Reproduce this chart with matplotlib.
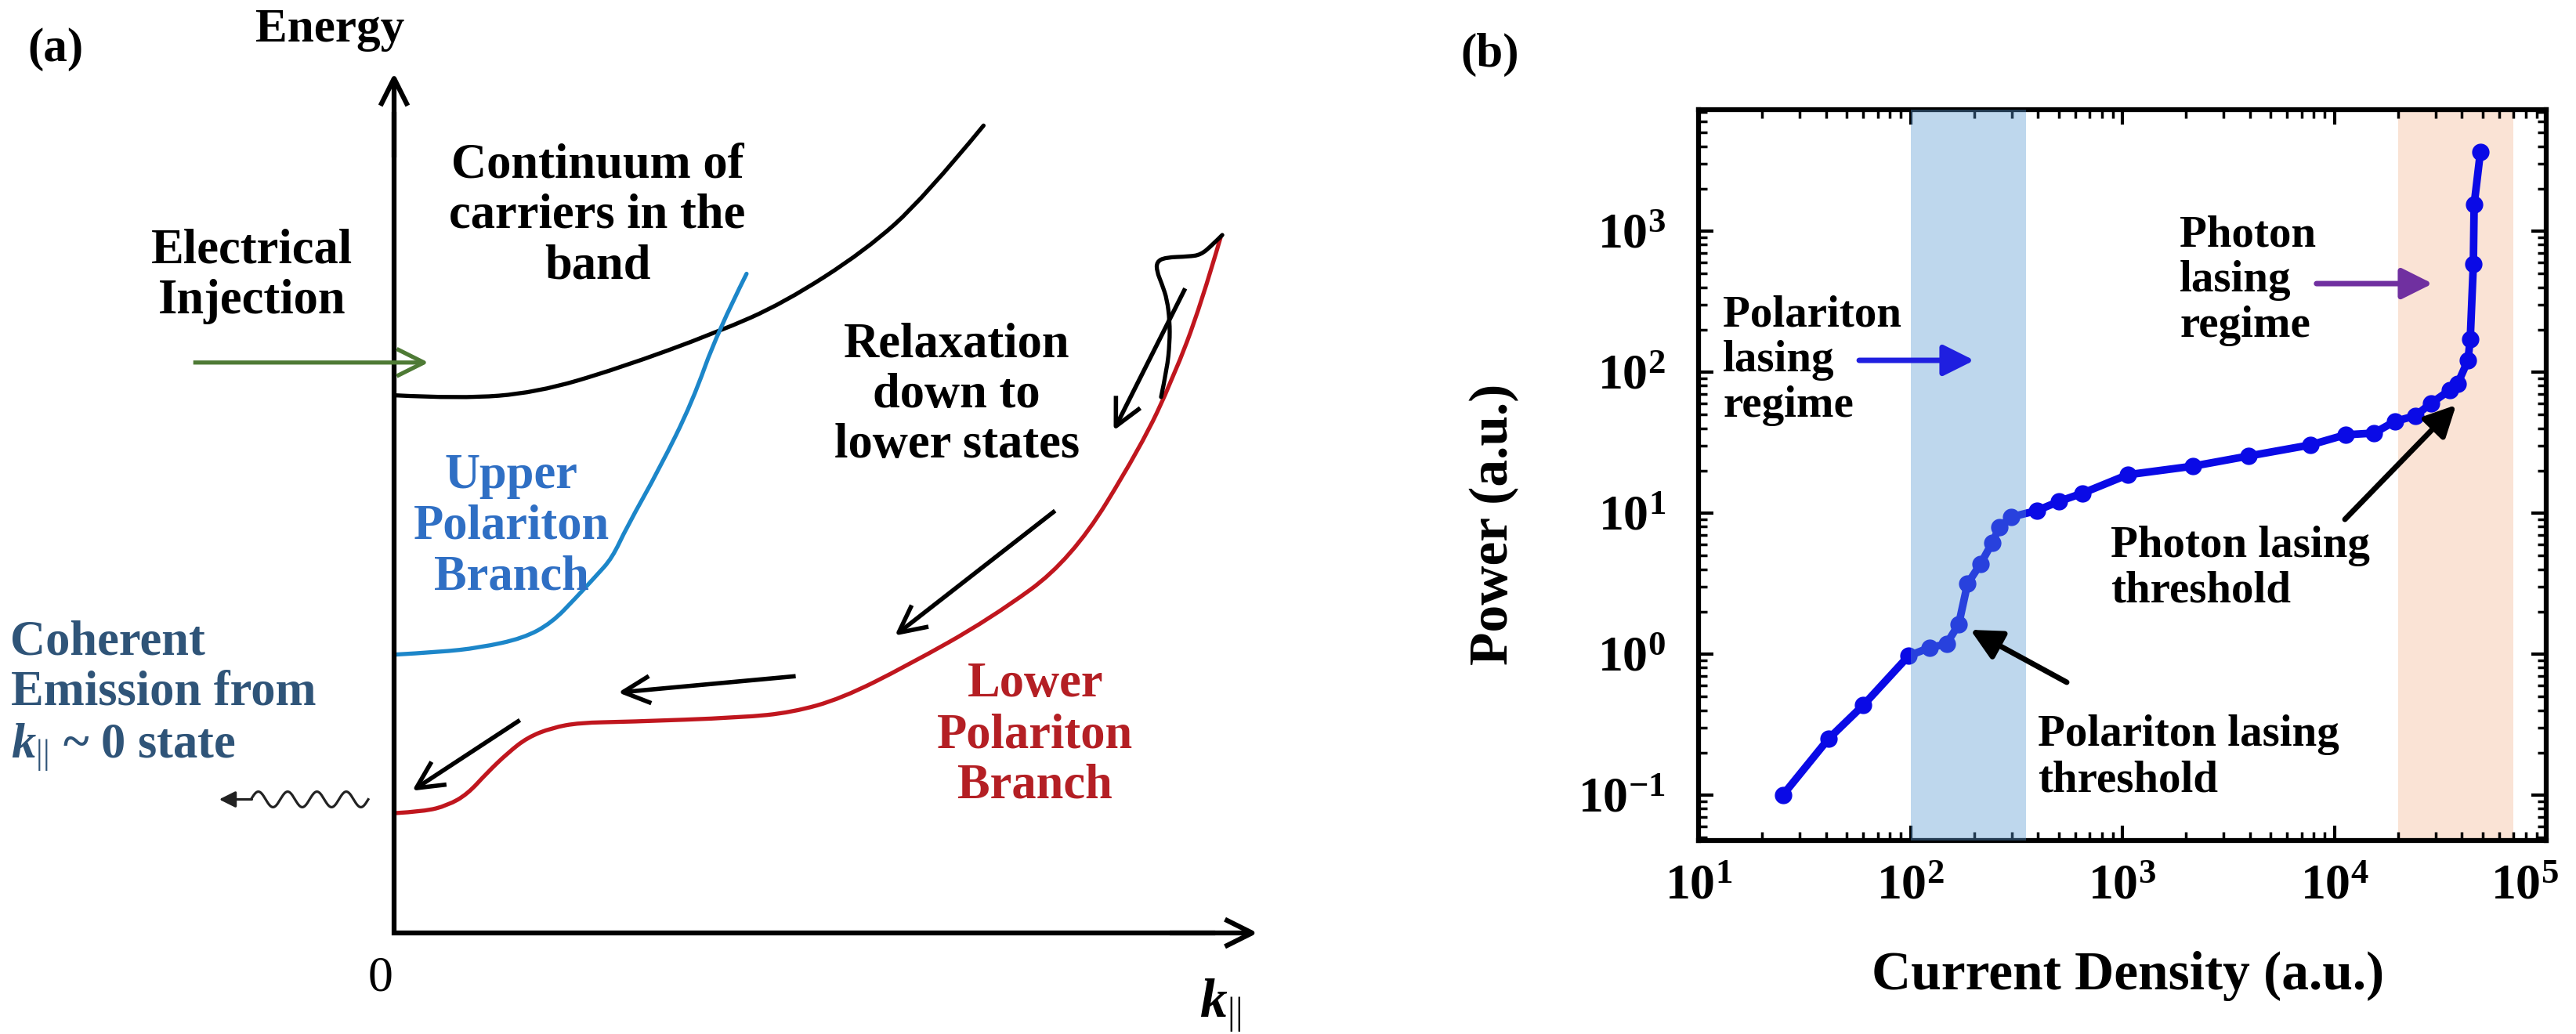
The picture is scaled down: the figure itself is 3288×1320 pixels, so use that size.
import numpy as np
import matplotlib
matplotlib.use("Agg")
import matplotlib.pyplot as plt
from matplotlib.path import Path
from matplotlib.patches import PathPatch
from matplotlib.ticker import LogLocator, FixedLocator, NullFormatter

plt.rcParams['font.family'] = ['Liberation Serif', 'DejaVu Serif']
plt.rcParams['mathtext.fontset'] = 'custom'
plt.rcParams['mathtext.rm'] = 'Liberation Serif'
plt.rcParams['mathtext.it'] = 'Liberation Serif:italic'
plt.rcParams['mathtext.bf'] = 'Liberation Serif:bold'
plt.rcParams['mathtext.bfit'] = 'Liberation Serif:italic:bold'

# ---------- DATA ----------
# (a) schematic dispersion curves (k, E in axis units)
cont_k = [0.0, 0.078, 0.165, 0.260, 0.375, 0.452, 0.547, 0.615, 0.684]
cont_E = [0.624, 0.620, 0.627, 0.655, 0.697, 0.731, 0.792, 0.853, 0.937]

upb_k = [0.0, 0.053, 0.099, 0.150, 0.183, 0.211, 0.234, 0.253, 0.270, 0.308, 0.346, 0.375, 0.409]
upb_E = [0.323, 0.326, 0.331, 0.342, 0.360, 0.389, 0.414, 0.435, 0.471, 0.539, 0.616, 0.697, 0.765]

lpb_k = [0.0, 0.035, 0.062, 0.085, 0.108, 0.132, 0.155, 0.183, 0.215, 0.270, 0.404, 0.462,
         0.519, 0.595, 0.691, 0.786, 0.867, 0.904, 0.936, 0.959]
lpb_E = [0.139, 0.141, 0.148, 0.161, 0.186, 0.209, 0.227, 0.238, 0.244, 0.245, 0.250, 0.256,
         0.272, 0.310, 0.364, 0.433, 0.565, 0.644, 0.728, 0.807]

loop_k = [0.961, 0.949, 0.936, 0.922, 0.895, 0.885, 0.885, 0.891, 0.897, 0.900, 0.900, 0.897, 0.890]
loop_E = [0.810, 0.798, 0.787, 0.785, 0.784, 0.779, 0.768, 0.753, 0.735, 0.710, 0.685, 0.655, 0.622]

# relaxation arrows (tail k, tail E, head k, head E)
relax_arrows = [(0.918, 0.748, 0.835, 0.583),
                (0.767, 0.490, 0.581, 0.345),
                (0.466, 0.298, 0.260, 0.279),
                (0.146, 0.247, 0.021, 0.165)]

# (b) measured light-current curve
current = [25, 41, 60, 98, 123, 148, 169, 186, 214, 243, 263, 299, 395, 502, 646,
           1060, 2150, 3950, 7700, 11300, 15400, 19300, 24100, 28600, 35100, 38200,
           42700, 43800, 45300, 45700, 48900]
power = [0.1, 0.25, 0.435, 0.97, 1.11, 1.18, 1.63, 3.16, 4.35, 6.15, 7.94, 9.38, 10.4, 12.1, 13.8,
         18.7, 21.5, 25.4, 30.4, 35.9, 36.9, 44.7, 48.9, 60, 74.5, 82.6,
         121, 171, 584, 1545, 3640]
polariton_band = (100, 350)
photon_band = (2e4, 7e4)
x_ticks = [1e1, 1e2, 1e3, 1e4, 1e5]
y_ticks = [1e-1, 1e0, 1e1, 1e2, 1e3]

W, H = 3288, 1320
fig = plt.figure(figsize=(W / 100, H / 100), dpi=100)


def smooth_curve(axis, xs, ys, **kw):
    # quadratic bezier pieces through the midpoints of the read points
    pts = np.column_stack([xs, ys])
    verts = [pts[0]]
    codes = [Path.MOVETO]
    for i in range(1, len(pts) - 1):
        mid = (pts[i] + pts[i + 1]) / 2 if i < len(pts) - 2 else pts[i + 1]
        verts += [pts[i], mid]
        codes += [Path.CURVE3, Path.CURVE3]
    axis.add_patch(PathPatch(Path(verts, codes), fill=False, capstyle='round', **kw))


# ---------- (a) ----------
PX = 1100.0
ax = fig.add_axes([0, 0, 1650 / W, 1])
ax.set_xlim(-503 / PX, (1650 - 503) / PX)
ax.set_ylim((1191 - 1320) / PX, 1191 / PX)
ax.axis('off')

head = dict(arrowstyle='->,head_length=0.5,head_width=0.25', mutation_scale=50,
            shrinkA=0, shrinkB=0, color='black', capstyle='butt')
ax.plot([0, 0, 0.95], [0.95, 0, 0], color='black', lw=4.5, solid_joinstyle='miter')
ax.annotate('', xy=(0, 0.998), xytext=(0, 0.9), arrowprops=dict(head, lw=4.5))
ax.annotate('', xy=(1.002, 0), xytext=(0.9, 0), arrowprops=dict(head, lw=4.5))

smooth_curve(ax, cont_k, cont_E, edgecolor='black', lw=3.8)
smooth_curve(ax, upb_k, upb_E, edgecolor='#1C86C9', lw=3.8)
smooth_curve(ax, lpb_k, lpb_E, edgecolor='#C0161E', lw=3.8)
smooth_curve(ax, loop_k, loop_E, edgecolor='black', lw=3.8)

for tk, tE, hk, hE in relax_arrows:
    ax.annotate('', xy=(hk, hE), xytext=(tk, tE), arrowprops=dict(head, lw=4))

ax.annotate('', xy=(0.040, 0.662), xytext=(-0.233, 0.662),
            arrowprops=dict(head, lw=3.8, color='#4E7A35'))

# emitted photon
wk = np.linspace(-0.030, -0.165, 300)
wE = 0.155 + 0.009 * np.sin(2 * np.pi * (wk + 0.030) / 0.034)
ax.plot(wk, wE, color='#222222', lw=2.3)
ax.annotate('', xy=(-0.203, 0.155), xytext=(-0.165, 0.155),
            arrowprops=dict(arrowstyle='-|>,head_length=0.5,head_width=0.25', mutation_scale=25,
                            lw=2.3, color='#222222', shrinkA=0, shrinkB=0))

fs_a = 45
bold = dict(fontsize=fs_a, fontweight='bold', ha='center', va='center', linespacing=1.15)
ax.text(-0.165, 0.762, 'Electrical\nInjection', **bold)
ax.text(0.236, 0.832, 'Continuum of\ncarriers in the\nband', **bold)
ax.text(0.136, 0.471, 'Upper\nPolariton\nBranch', color='#2F6FC4', **bold)
ax.text(0.653, 0.624, 'Relaxation\ndown to\nlower states', **bold)
ax.text(0.744, 0.229, 'Lower\nPolariton\nBranch', color='#B41F24', **bold)
ax.text(-0.445, 0.275, 'Coherent\nEmission from\n' + r'$\mathbfit{k}_{\mathrm{||}}$' + ' ~ 0 state',
        fontsize=fs_a, fontweight='bold', ha='left', va='center', linespacing=1.15, color='#2F5478')
ax.text(-0.0155, -0.0536, '0', fontsize=46, ha='center', va='center')
ax.text(0.959, -0.0845, r'$\mathbfit{k}_{\mathrm{||}}$', fontsize=50, ha='center', va='center')

fig.text(71 / W, 1 - 63 / H, '(a)', fontsize=44, fontweight='bold', ha='center', va='center')
fig.text(421 / W, 1 - 38 / H, 'Energy', fontsize=44, fontweight='bold', ha='center', va='center')

# ---------- (b) ----------
bx = fig.add_axes([2168 / W, 1 - 1073 / H, 1082 / W, 933 / H])
bx.axvspan(*photon_band, color='#FAE3D5', lw=0, zorder=0)
bx.plot(current, power, '-o', color='#0A0AE6', lw=7, ms=15, zorder=2)
bx.axvspan(*polariton_band, color='#5898D1', alpha=0.39, lw=0, zorder=3)
bx.set_xscale('log')
bx.set_yscale('log')
bx.set_xlim(10, 1e5)
bx.set_ylim(0.0476, 7260)


def dec_label(v):
    return r'$\mathbf{10^{%d}}$' % round(np.log10(v))


# the 10^5 label sits left of its tick in the original, so it is drawn separately
bx.set_xticks(x_ticks, labels=[dec_label(v) for v in x_ticks[:-1]] + [''])
bx.set_yticks(y_ticks, labels=[dec_label(v) for v in y_ticks])
for a in (bx.xaxis, bx.yaxis):
    a.set_minor_locator(LogLocator(base=10, subs=np.arange(2, 10), numticks=20))
    a.set_minor_formatter(NullFormatter())
bx.set_xlim(10, 1e5)
bx.set_ylim(0.0476, 7260)
bx.tick_params(which='both', direction='in', top=True, right=True, labelsize=46)
bx.tick_params(which='major', length=14, width=3)
bx.tick_params(which='minor', length=8, width=2.5)
bx.tick_params(axis='x', pad=22)
bx.tick_params(axis='y', pad=30)
for s in bx.spines.values():
    s.set_linewidth(4.5)
fig.text(3223 / W, 1 - 1104 / H, dec_label(x_ticks[-1]), fontsize=46, ha='center', va='top')

fig.text(1907 / W, 1 - 669 / H, 'Power (a.u.)', rotation=90, fontsize=50, fontweight='bold',
         ha='center', va='center')
fig.text(2716 / W, 1 - 1246 / H, 'Current Density (a.u.)', fontsize=50, fontweight='bold',
         ha='center', va='center')
fig.text(1902 / W, 1 - 70 / H, '(b)', fontsize=44, fontweight='bold', ha='center', va='center')

fs_b = 41
tb = dict(fontsize=fs_b, fontweight='bold', ha='left', va='center', linespacing=1.15,
          transform=bx.transAxes, zorder=6)
bx.text(0.0287, 0.657, 'Polariton\nlasing\nregime', **tb)
bx.text(0.5675, 0.766, 'Photon\nlasing\nregime', **tb)
bx.text(0.486, 0.372, 'Photon lasing\nthreshold', **tb)
bx.text(0.400, 0.1136, 'Polariton lasing\nthreshold', **tb)

fhead = dict(arrowstyle='-|>,head_length=0.6,head_width=0.3', mutation_scale=40,
             shrinkA=0, shrinkB=0)
bx.annotate('', xy=(0.3253, 0.657), xytext=(0.1895, 0.657), xycoords='axes fraction',
            arrowprops=dict(fhead, lw=5, color='#1F1FE0'), zorder=6)
bx.annotate('', xy=(0.866, 0.762), xytext=(0.729, 0.762), xycoords='axes fraction',
            arrowprops=dict(fhead, lw=5, color='#7030A0'), zorder=6)
bx.annotate('', xy=(0.8937, 0.596), xytext=(0.7625, 0.4394), xycoords='axes fraction',
            arrowprops=dict(fhead, lw=5, color='black'), zorder=6)
bx.annotate('', xy=(0.3207, 0.2883), xytext=(0.4344, 0.2165), xycoords='axes fraction',
            arrowprops=dict(fhead, lw=5, color='black'), zorder=6)

fig.savefig('out.png', dpi=100, facecolor='white')
